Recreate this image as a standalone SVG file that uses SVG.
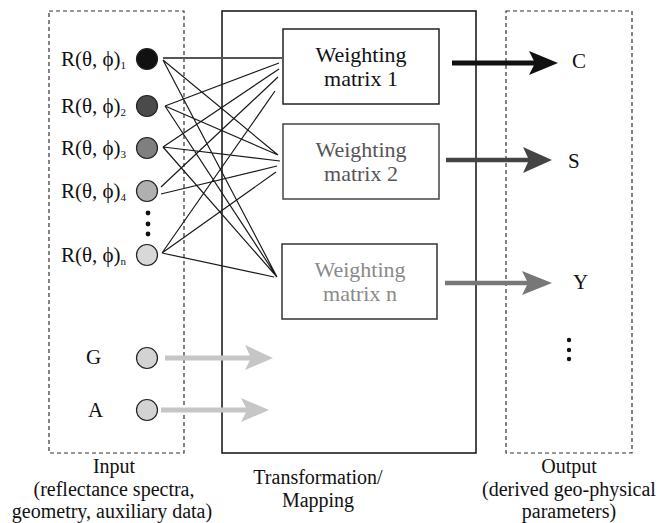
<svg xmlns="http://www.w3.org/2000/svg" width="663" height="523" viewBox="0 0 663 523">
<style>
text{font-family:"Liberation Serif","Times New Roman",serif;fill:#111}
.lbl{font-size:21px}
.wm{font-size:22px;text-anchor:middle}
.cap{font-size:20px;text-anchor:middle}
.dash{fill:none;stroke:#333;stroke-width:1.2;stroke-dasharray:4,3}
.box{fill:#fff;stroke-width:1.5}
.c{stroke:#222;stroke-width:1.2}
.ln{stroke:#1a1a1a;stroke-width:1.2;fill:none}
.sub{font-size:11px}
</style>
<rect width="663" height="523" fill="#fff"/>
<g id="input-panel">
<rect class="dash" x="49" y="11" width="135" height="442"/>
<text class="cap" x="114" y="473">Input</text>
<text class="cap" x="114" y="495.5">(reflectance spectra,</text>
<text class="cap" x="112" y="518">geometry, auxiliary data)</text>
</g>
<g id="transformation-panel">
<rect x="222" y="11" width="254" height="442" fill="none" stroke="#111" stroke-width="1.5"/>
<text class="cap" x="318" y="484">Transformation/</text>
<text class="cap" x="318" y="506.5">Mapping</text>
</g>
<g id="output-panel">
<rect class="dash" x="506" y="11" width="126" height="442"/>
<text class="cap" x="569" y="473">Output</text>
<text class="cap" x="569" y="495.5">(derived geo-physical</text>
<text class="cap" x="569" y="518">parameters)</text>
</g>
<g id="connectors">
<line x1="163" y1="58" x2="282" y2="58" stroke="#555" stroke-width="2"/>
<path class="ln" d="M163,60 L278,155 M163,60 L277,277 M165,106 L279,63 M165,106 L278,155 M165,106 L277,277 M163,147 L279,69 M163,147 L280,161 M163,147 L277,277 M161,187 L278,77 M161,194 L277,166 M162,253 L275,91 M162,253 L276,172 M162,253 L274,277"/>
<line x1="452" y1="63" x2="536" y2="63" stroke="#111" stroke-width="5"/>
<polygon points="529,51 558,63 529,75 535,63" fill="#111"/>
<line x1="446" y1="160" x2="530" y2="160" stroke="#444" stroke-width="4.5"/>
<polygon points="523,147 552,160 523,173 529,160" fill="#444"/>
<line x1="445" y1="283" x2="529" y2="283" stroke="#777" stroke-width="4.5"/>
<polygon points="522,271 552,283 522,295 528,283" fill="#777"/>
<line x1="165" y1="358" x2="252" y2="358" stroke="#c6c6c6" stroke-width="5"/>
<polygon points="245,345 273,358 245,370 251,358" fill="#c6c6c6"/>
<line x1="161" y1="410" x2="248" y2="410" stroke="#c6c6c6" stroke-width="5"/>
<polygon points="241,398 269,410 241,422 247,410" fill="#c6c6c6"/>
</g>
<g id="r1">
<circle class="c" cx="147" cy="59" r="10.5" fill="#111"/>
<text class="lbl" x="61" y="66">R(θ, ϕ)<tspan class="sub" dy="3">1</tspan></text>
</g>
<g id="r2">
<circle class="c" cx="147" cy="106" r="10.5" fill="#4a4a4a"/>
<text class="lbl" x="61" y="113">R(θ, ϕ)<tspan class="sub" dy="3">2</tspan></text>
</g>
<g id="r3">
<circle class="c" cx="147" cy="148" r="10.5" fill="#7f7f7f"/>
<text class="lbl" x="61" y="155">R(θ, ϕ)<tspan class="sub" dy="3">3</tspan></text>
</g>
<g id="r4">
<circle class="c" cx="147" cy="191" r="10.5" fill="#b0b0b0"/>
<text class="lbl" x="61" y="198">R(θ, ϕ)<tspan class="sub" dy="3">4</tspan></text>
</g>
<g id="input-dots">
<circle cx="148" cy="213" r="2.4" fill="#111"/>
<circle cx="148" cy="224" r="2.4" fill="#111"/>
<circle cx="148" cy="234" r="2.4" fill="#111"/>
</g>
<g id="rn">
<circle class="c" cx="147" cy="255" r="10.5" fill="#d8d8d8"/>
<text class="lbl" x="61" y="262">R(θ, ϕ)<tspan class="sub" dy="3">n</tspan></text>
</g>
<g id="g-input">
<circle class="c" cx="147" cy="358" r="10.5" fill="#d3d3d3"/>
<text class="lbl" x="86" y="364">G</text>
</g>
<g id="a-input">
<circle class="c" cx="147" cy="410" r="10.5" fill="#d3d3d3"/>
<text class="lbl" x="88" y="417">A</text>
</g>
<g id="matrix1">
<rect class="box" x="283" y="29" width="156" height="75" stroke="#222"/>
<text class="wm" x="361" y="62" fill="#111">Weighting</text>
<text class="wm" x="361" y="86" fill="#111">matrix 1</text>
</g>
<g id="matrix2">
<rect class="box" x="283" y="124" width="156" height="75" stroke="#444"/>
<text class="wm" x="361" y="157" style="fill:#555">Weighting</text>
<text class="wm" x="361" y="181" style="fill:#555">matrix 2</text>
</g>
<g id="matrixn">
<rect class="box" x="282" y="244" width="155" height="75" stroke="#333"/>
<text class="wm" x="360" y="277" style="fill:#8a8a8a">Weighting</text>
<text class="wm" x="360" y="301" style="fill:#8a8a8a">matrix n</text>
</g>
<g id="out-c"><text class="lbl" x="572" y="68">C</text></g>
<g id="out-s"><text class="lbl" x="568" y="168">S</text></g>
<g id="out-y"><text class="lbl" x="573" y="289">Y</text></g>
<g id="output-dots">
<circle cx="569" cy="340" r="2.2" fill="#111"/>
<circle cx="569" cy="350" r="2.2" fill="#111"/>
<circle cx="569" cy="359" r="2.2" fill="#111"/>
</g>
</svg>
